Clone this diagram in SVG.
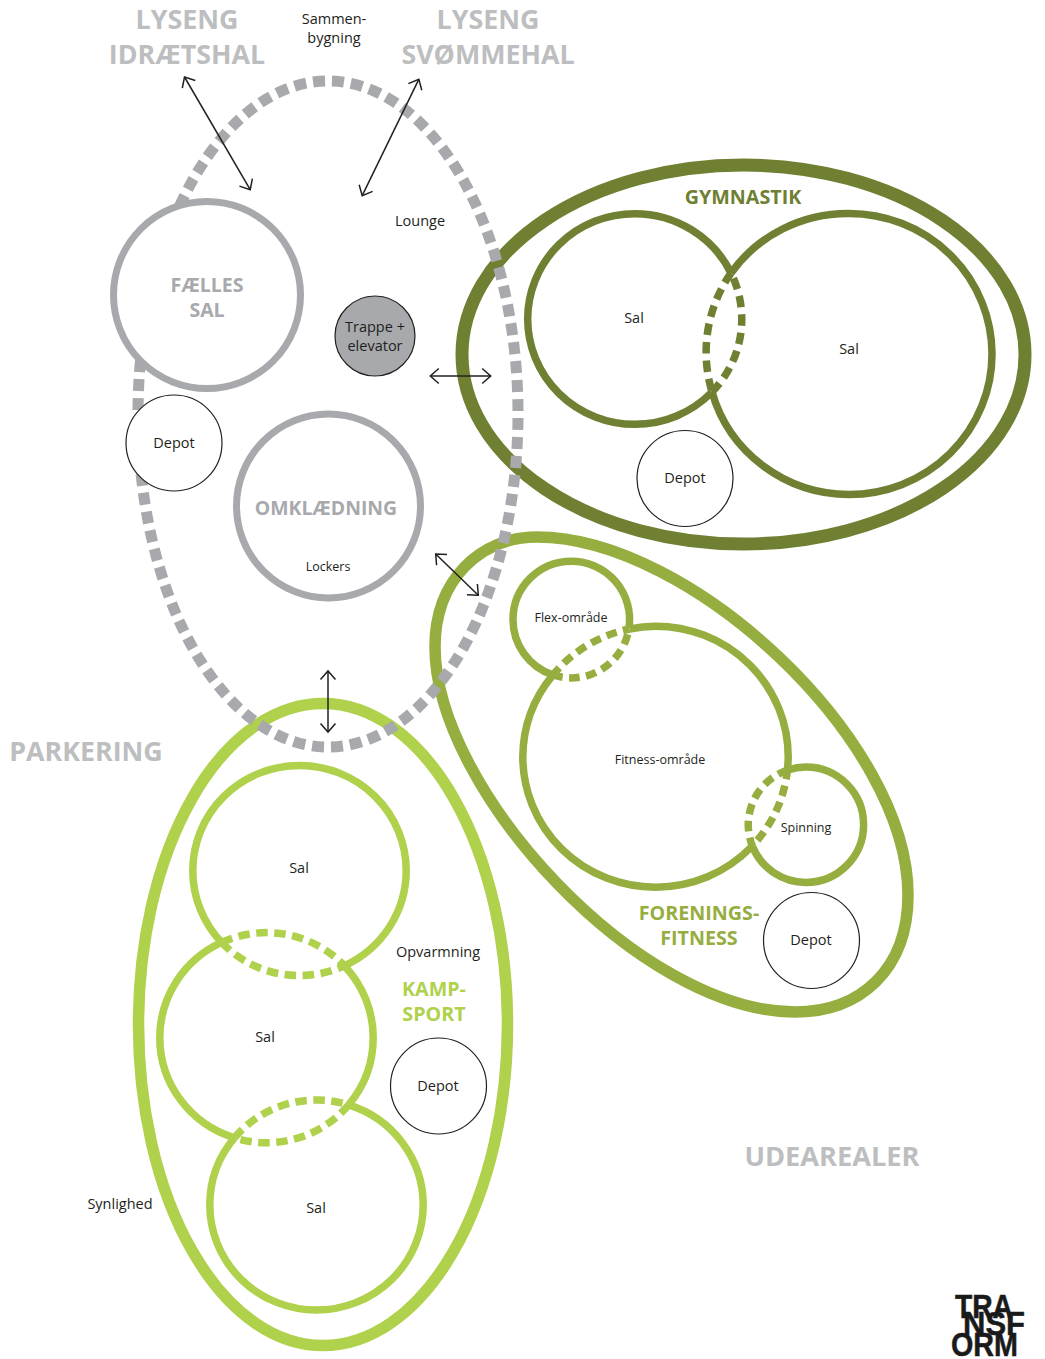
<svg xmlns="http://www.w3.org/2000/svg" width="1045" height="1359" viewBox="0 0 1045 1359">
<style>
text{font-family:"Open Sans","Noto Sans","Liberation Sans",sans-serif;text-anchor:middle;fill:#231f20;font-size:14.5px}
.b{font-weight:700}
.g{fill:#bcbec0;font-size:26.8px}
.t{font-size:19.7px}
.sm{font-size:12.5px}
.no{fill:none}
.c7{fill:none;stroke-width:7.5}
.gym{stroke:#6f8033}
.fit{stroke:#95ae3f}
.kmp{stroke:#afd14b}
.dg{stroke-dasharray:11.5 7}
.df{stroke-dasharray:10.5 6.5}
.dk{stroke-dasharray:11.5 6.5}
.thin{fill:#fff;stroke:#231f20;stroke-width:1.2}
.arrow{stroke:#231f20;stroke-width:1.5;fill:none;marker-start:url(#ah);marker-end:url(#ah)}
.logo{font-family:"Liberation Sans",Arial,sans-serif;font-weight:700;font-size:33px;fill:#1a1a1a;stroke:#1a1a1a;stroke-width:.5;text-anchor:start}
</style>
<defs>
<marker id="ah" viewBox="-12 -9 14 18" refX="0" refY="0" markerWidth="14" markerHeight="18" markerUnits="userSpaceOnUse" orient="auto-start-reverse">
<path d="M-8.5,-7.5 L0,0 L-8.5,7.5" fill="none" stroke="#231f20" stroke-width="1.5"/>
</marker>
</defs>
<g id="node-gymnastik">
<ellipse class="no gym" stroke-width="13" cx="743.5" cy="354.5" rx="281.5" ry="189.5"/>
<path class="c7 gym" d="M731,273 A107,105.3 0 0 0 634.7,213.7 A107,105.3 0 0 0 527.7,319 A107,105.3 0 0 0 634.7,424.3 A107,105.3 0 0 0 712,392"/>
<path class="c7 gym dg" d="M712,392 A107,105.3 0 0 0 731,273"/>
<path class="c7 gym" d="M731,273 A143,140.5 0 0 1 849,213.5 A143,140.5 0 0 1 992,354 A143,140.5 0 0 1 849,494.5 A143,140.5 0 0 1 712,392"/>
<path class="c7 gym dg" d="M731,273 A143,140.5 0 0 0 712,392"/>
<text class="b t" style="fill:#6f8033" x="743" y="204">GYMNASTIK</text>
<text x="634" y="323">Sal</text>
<text x="849" y="354">Sal</text>
<circle class="thin" cx="685" cy="478.5" r="48"/>
<text x="685" y="483">Depot</text>
</g>
<g id="node-forenings">
<path class="no fit" stroke-width="11.5" d="M537,537 C690,537 908,740 908,895 C908,970 860,1012 795,1012 C640,1012 435,790 435,647 C435,580 480,537 537,537 Z"/>
<path class="c7 fit" d="M629,627.8 A58.3,58.3 0 0 0 571.3,561.2 A58.3,58.3 0 0 0 513,619.5 A58.3,58.3 0 0 0 552.5,674.8"/>
<path class="c7 fit df" d="M552.5,674.8 A58.3,58.3 0 0 0 629,627.8"/>
<path class="c7 fit" d="M629.5,629 A132.7,130.5 0 0 1 655.5,626.2 A132.7,130.5 0 0 1 788.2,756.7 A132.7,130.5 0 0 1 787.5,768.9"/>
<path class="c7 fit" d="M751.3,847 A132.7,130.5 0 0 1 655.5,887.2 A132.7,130.5 0 0 1 522.8,756.7 A132.7,130.5 0 0 1 552.4,675.6"/>
<path class="c7 fit df" d="M552.4,675.6 A132.7,130.5 0 0 1 629.5,629"/>
<path class="c7 fit df" d="M787.5,768.9 A132.7,130.5 0 0 1 751.3,847"/>
<path class="c7 fit" d="M787.8,770 A57.7,57.7 0 0 1 805.9,767 A57.7,57.7 0 0 1 863.6,824.7 A57.7,57.7 0 0 1 805.9,882.4 A57.7,57.7 0 0 1 752.5,846.5"/>
<path class="c7 fit df" d="M787.8,770 A57.7,57.7 0 0 0 752.5,846.5"/>
<text class="sm" x="571" y="622">Flex-område</text>
<text class="sm" x="660" y="764">Fitness-område</text>
<text class="sm" x="806" y="832">Spinning</text>
<text class="b t" style="fill:#95ae3f" x="699" y="920">FORENINGS-</text>
<text class="b t" style="fill:#95ae3f" x="699" y="945">FITNESS</text>
<circle class="thin" cx="811.5" cy="940.5" r="48"/>
<text x="811" y="945">Depot</text>
</g>
<g id="node-kampsport">
<ellipse class="no kmp" stroke-width="11.5" cx="323" cy="1024.5" rx="184.5" ry="321"/>
<path class="c7 kmp" d="M221.6,942.4 A106.7,105 0 0 1 192.8,870.5 A106.7,105 0 0 1 299.5,765.5 A106.7,105 0 0 1 406.2,870.5 A106.7,105 0 0 1 344.4,965.8"/>
<path class="c7 kmp dk" d="M221.6,942.4 A106.7,105 0 0 0 344.4,965.8"/>
<path class="c7 kmp" d="M344.4,965.8 A106.7,105 0 0 1 373.2,1037.7 A106.7,105 0 0 1 348.6,1104.85"/>
<path class="c7 kmp" d="M234.4,1137.85 A106.7,105 0 0 1 159.8,1037.7 A106.7,105 0 0 1 221.6,942.4"/>
<path class="c7 kmp dk" d="M221.6,942.4 A106.7,105 0 0 1 344.4,965.8"/>
<path class="c7 kmp dk" d="M348.6,1104.85 A106.7,105 0 0 1 234.4,1137.85"/>
<path class="c7 kmp" d="M348.6,1104.85 A106.7,105 0 0 1 423.2,1205 A106.7,105 0 0 1 316.5,1310 A106.7,105 0 0 1 209.8,1205 A106.7,105 0 0 1 234.4,1137.85"/>
<path class="c7 kmp dk" d="M234.4,1137.85 A106.7,105 0 0 1 348.6,1104.85"/>
<text x="299" y="873">Sal</text>
<text x="265" y="1042">Sal</text>
<text x="316" y="1213">Sal</text>
<text x="438" y="957">Opvarmning</text>
<text class="b t" style="fill:#afd14b" x="434" y="996">KAMP-</text>
<text class="b t" style="fill:#afd14b" x="434" y="1021">SPORT</text>
<circle class="thin" cx="438.5" cy="1086" r="48"/>
<text x="438" y="1091">Depot</text>
</g>
<g id="node-boundary">
<ellipse fill="none" stroke="#a7a9ac" stroke-width="11" pathLength="1672" stroke-dasharray="12 7" stroke-dashoffset="-4" cx="328" cy="414" rx="190" ry="333"/>
</g>
<g id="node-faelles-sal">
<circle fill="#fff" stroke="#a7a9ac" stroke-width="7" cx="207" cy="295" r="93.5"/>
<text class="b" style="fill:#a7a9ac;font-size:19.5px" x="207" y="292">FÆLLES</text>
<text class="b" style="fill:#a7a9ac;font-size:19.5px" x="207" y="317">SAL</text>
</g>
<g id="node-depot-1">
<circle class="thin" cx="174" cy="443" r="48"/>
<text x="174" y="448">Depot</text>
</g>
<g id="node-trappe">
<circle fill="#a7a9ac" stroke="#231f20" stroke-width="1.2" cx="375" cy="336" r="40"/>
<text x="375" y="332">Trappe +</text>
<text x="375" y="351">elevator</text>
</g>
<g id="node-omklaedning">
<circle fill="#fff" stroke="#a7a9ac" stroke-width="7" cx="328.5" cy="506" r="92"/>
<text class="b" style="fill:#a7a9ac;font-size:19.4px" x="326" y="515">OMKLÆDNING</text>
<text class="sm" x="328" y="571">Lockers</text>
</g>
<g id="connectors">
<path class="arrow" d="M184.5,77 L250.2,189.7"/>
<path class="arrow" d="M418.8,79.3 L362.2,195.7"/>
<path class="arrow" d="M430.3,376 L490.7,376"/>
<path class="arrow" d="M435.7,554 L478.3,595.3"/>
<path class="arrow" d="M328,671 L328,732"/>
</g>
<g id="labels">
<text class="b g" x="187" y="29">LYSENG</text>
<text class="b g" x="187" y="64">IDRÆTSHAL</text>
<text class="b g" x="488" y="29">LYSENG</text>
<text class="b g" x="488" y="64">SVØMMEHAL</text>
<text x="334" y="24">Sammen-</text>
<text x="334" y="43">bygning</text>
<text x="420" y="226">Lounge</text>
<text class="b g" x="86" y="761">PARKERING</text>
<text class="b g" style="font-size:27.2px" x="832" y="1166">UDEAREALER</text>
<text x="120" y="1209">Synlighed</text>
</g>
<g id="logo">
<text class="logo" x="955" y="1318" textLength="58" lengthAdjust="spacingAndGlyphs">TRA</text>
<text class="logo" x="963" y="1335" textLength="62" lengthAdjust="spacingAndGlyphs">NSF</text>
<text class="logo" x="951" y="1356" textLength="67" lengthAdjust="spacingAndGlyphs">ORM</text>
</g>
</svg>
